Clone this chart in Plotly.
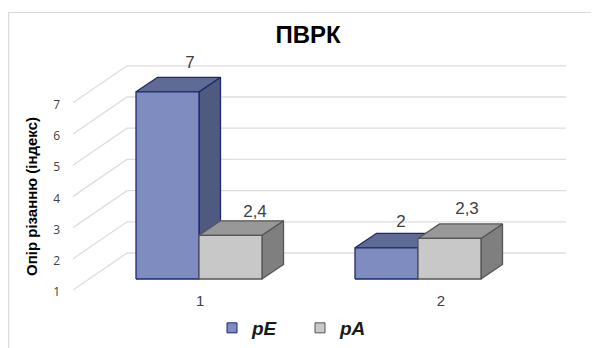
import plotly.graph_objects as go

categories = [1, 2]
tick_label_pos = [1.005, 2.105]
pE = [7, 2]
pA = [2.4, 2.3]
pE_labels = ["7", "2"]
pA_labels = ["2,4", "2,3"]
y_ticks = [1, 2, 3, 4, 5, 6, 7]

OX, OY = 8, 8                     # the page's own body margin
W, H = 599 - OX, 348 - OY
ML, MR, MT, MB = 61 - OX, 0, 0, 58
PX_X, PX_Y = 219.0, 31.2          # pixels per data unit
XR = [1 + (61 - 199) / PX_X, 1 + (599 - 199) / PX_X]
YR = [1, 1 + (290 - OY) / PX_Y]

BW = 63 / PX_X                    # bar width
DX, DY = 21.5 / PX_X, 14.5 / PX_Y # bar depth
OFFY = 11 / PX_Y                  # bar floor above the wall's front edge
WX0, WX1 = 1 + (73 - 199) / PX_X, 1 + (512 - 199) / PX_X
WDX, WDY = 54 / PX_X, 37 / PX_Y

# label placement relative to the bar's front-top centre, pixels (right, up)
E_NUDGE = [(22.5, 28), (14.5, 25)]
A_NUDGE = [(24.5, 23), (17.5, 29)]

BLUE = dict(front="#7F8CBF", top="#5E6B97", side="#50597F", edge="#1B2A6B")
GREY = dict(front="#C8C8C8", top="#989898", side="#7F7F7F", edge="#555555")

fig = go.Figure()


def poly(xs, ys, fill, edge):
    fig.add_trace(go.Scatter(x=xs, y=ys, mode="lines", fill="toself", fillcolor=fill,
                             line=dict(color=edge, width=1.3), showlegend=False,
                             hoverinfo="skip", cliponaxis=False))


def box(x0, value, c):
    x1 = x0 + BW
    y0, y1 = 1 + OFFY, value + OFFY
    poly([x1, x1 + DX, x1 + DX, x1, x1], [y0, y0 + DY, y1 + DY, y1, y0], c["side"], c["edge"])
    poly([x0, x1, x1 + DX, x0 + DX, x0], [y1, y1, y1 + DY, y1 + DY, y1], c["top"], c["edge"])
    poly([x0, x1, x1, x0, x0], [y0, y0, y1, y1, y0], c["front"], c["edge"])


for v in y_ticks:
    fig.add_trace(go.Scatter(x=[WX0, WX0 + WDX, WX1 + WDX], y=[v, v + WDY, v + WDY], mode="lines",
                             line=dict(color="#DDDDDD", width=1.3), showlegend=False,
                             hoverinfo="skip", cliponaxis=False))

for cat, a, b in zip(categories, pE, pA):
    box(cat - BW, a, BLUE)
    box(cat, b, GREY)

font_lab = dict(family="Liberation Sans", size=17, color="#404040")
fig.add_trace(go.Scatter(x=[c - BW / 2 + n[0] / PX_X for c, n in zip(categories, E_NUDGE)],
                         y=[v + OFFY + n[1] / PX_Y for v, n in zip(pE, E_NUDGE)],
                         mode="text", text=pE_labels,
                         textposition="middle center", textfont=font_lab, showlegend=False,
                         hoverinfo="skip", cliponaxis=False))
fig.add_trace(go.Scatter(x=[c + BW / 2 + n[0] / PX_X for c, n in zip(categories, A_NUDGE)],
                         y=[v + OFFY + n[1] / PX_Y for v, n in zip(pA, A_NUDGE)],
                         mode="text", text=pA_labels,
                         textposition="middle center", textfont=font_lab, showlegend=False,
                         hoverinfo="skip", cliponaxis=False))

for name, c in (("pE", BLUE), ("pA", GREY)):
    fig.add_trace(go.Scatter(x=[None], y=[None], mode="markers", name=name,
                             marker=dict(symbol="square", size=10, color=c["front"],
                                         line=dict(color=c["edge"], width=1))))

fig.update_layout(
    width=W, height=H, margin=dict(l=ML, r=MR, t=MT, b=MB, autoexpand=False),
    paper_bgcolor="white", plot_bgcolor="white",
    font=dict(family="Liberation Sans", color="#404040"),
    title=dict(text="<b>ПВРК</b>", x=(308 - OX) / W, xanchor="center", y=1 - (35 - OY) / H, yanchor="middle",
               font=dict(family="Liberation Sans", size=24, color="black")),
    xaxis=dict(range=XR, showgrid=False, zeroline=False, showline=False, ticks="",
               tickmode="array", tickvals=tick_label_pos, ticktext=[str(c) for c in categories],
               tickfont=dict(family="Liberation Sans", size=15, color="#404040")),
    yaxis=dict(range=YR, showgrid=False, zeroline=False, showline=False, ticks="",
               tickmode="array", tickvals=y_ticks, ticktext=[str(v) for v in y_ticks],
               ticklabelshift=2,
               tickfont=dict(family="Open Sans", size=12, color="#404040")),
    legend=dict(orientation="h", xref="container", yref="container",
                x=(212 - OX) / W, xanchor="left", y=1 - (328 - OY) / H, yanchor="middle",
                entrywidth=43, entrywidthmode="pixels",
                font=dict(family="Liberation Sans", size=19, color="#1a1a1a", style="italic", weight="bold"),
                itemwidth=30, bgcolor="rgba(0,0,0,0)"),
    annotations=[dict(text="<b>Опір різанню (індекс)</b>", xref="paper", yref="paper",
                      x=(31 - 61) / (W - ML - MR), y=1 - (197 - OY) / (H - MT - MB),
                      textangle=-90, showarrow=False, xanchor="center", yanchor="middle",
                      font=dict(family="Liberation Sans", size=15, color="black"))],
    shapes=[dict(type="path", xref="paper", yref="paper",
                 path="M {l} {b} L {l} {t} L {r} {t}".format(
                     l=(8.7 - 61) / (W - ML - MR),
                     b=1 - (348 - OY) / (H - MT - MB),
                     t=1 - (12.5 - OY) / (H - MT - MB),
                     r=(599 - 61) / (W - ML - MR)),
                 line=dict(color="#D9D9D9", width=1.2), layer="below")],
)

fig.write_html("out.html")
